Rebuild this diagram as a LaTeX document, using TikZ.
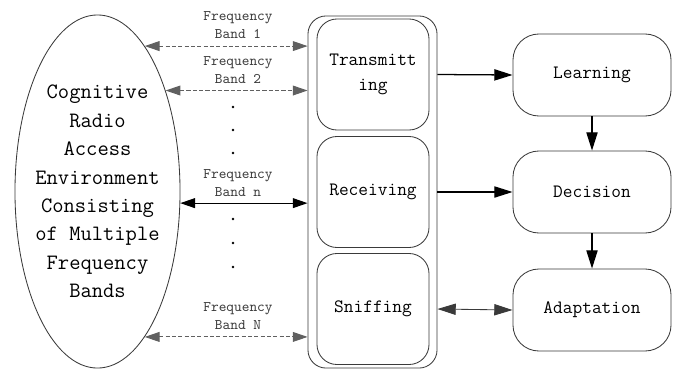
\documentclass[tikz,border=0pt]{standalone}
\usepackage{fontspec}
\usetikzlibrary{shapes,arrows.meta}
\definecolor{trait}{HTML}{3A3A3A}
\definecolor{gris}{HTML}{606060}
\tikzset{fig/.style={
    draw=trait,
    line width=0.6pt}}
\tikzset{bloc/.style={fig,
    rectangle,
    rounded corners=0.5cm,
    minimum width=2.8cm,
    minimum height=2.775cm,
    align=center,
    font=\ttfamily\fontsize{13.4}{17.8}\selectfont}}
\tikzset{etape/.style={fig,
    rectangle,
    rounded corners=0.65cm,
    minimum width=3.95cm,
    minimum height=2.05cm,
    font=\ttfamily\fontsize{13.4}{17.8}\selectfont}}
\tikzset{bandlab/.style={
    align=center,
    inner sep=0pt,
    text=trait,
    font=\ttfamily\fontsize{10.4}{12.8}\selectfont}}
\tikzset{fleche/.style={
    -{Triangle[length=13pt,width=8pt]},
    line width=0.9pt}}
\tikzset{band/.style={
    {Triangle[length=10.5pt,width=7pt]}-{Triangle[length=10.5pt,width=7pt]},
    gris,
    line width=0.7pt,
    dash pattern=on 3pt off 1.5pt}}

\begin{document}
\begin{tikzpicture}[x=0.025cm, y=-0.025cm]
\useasboundingbox (0,0) rectangle (676,370);

% environment
\node[fig,
  ellipse,
  minimum width=4.125cm,
  minimum height=8.825cm] (env) at (97.5,191.5) {};
\node[align=center,
  font=\ttfamily\fontsize{15.6}{20.2}\selectfont] (envtext) at (env) {Cognitive\\Radio\\Access\\Environment\\Consisting\\of Multiple\\Frequency\\Bands};

% radio front end
\node[fig,
  rectangle,
  rounded corners=0.45cm,
  minimum width=3.225cm,
  minimum height=8.8cm] (outer) at (372.5,192) {};
\node[bloc] (trans) at (373,74.5) {Transmitt\\ing};
\node[bloc] (recv) at (373,192) {Receiving};
\node[bloc] (sniff) at (373,309) {Sniffing};

% cognition loop
\node[etape] (learn) at (592,75) {Learning};
\node[etape] (decide) at (592,192) {Decision};
\node[etape] (adapt) at (592,310) {Adaptation};

% frequency bands
\coordinate (b1) at (env.72.2);
\coordinate (b2) at (env.56);
\coordinate (bn) at (env.-8.7);
\coordinate (bN) at (env.-72.2);

\draw[band] (b1) -- (b1 -| outer.west);
\draw[band] (b2) -- (b2 -| outer.west);
\draw[band,solid,black,line width=0.8pt] (bn) -- (bn -| outer.west);
\draw[band] (bN) -- (bN -| outer.west);

\node[bandlab, above=5pt] (lab1) at (238,46) {Frequency\\Band 1};
\node[bandlab, above=5pt] (lab2) at (238,91) {Frequency\\Band 2};
\node[bandlab, above=5pt] (labn) at (238,204) {Frequency\\Band n};
\node[bandlab, above=5pt] (labN) at (238,337) {Frequency\\Band N};

\foreach \y in {107,130,153,219,243,267}
  \fill (233,\y) circle (1.3);

% links
\draw[fleche] (trans.east -| outer.east) -- (learn.west);
\draw[fleche] (recv.east -| outer.east) -- (decide.west);
\draw[fleche] (learn) -- (decide);
\draw[fleche] (decide) -- (adapt);
\draw[fleche,{Triangle[length=13pt,width=8pt]}-{Triangle[length=13pt,width=8pt]},trait,line width=0.6pt] (sniff.east -| outer.east) -- (adapt.west);

\end{tikzpicture}
\end{document}
